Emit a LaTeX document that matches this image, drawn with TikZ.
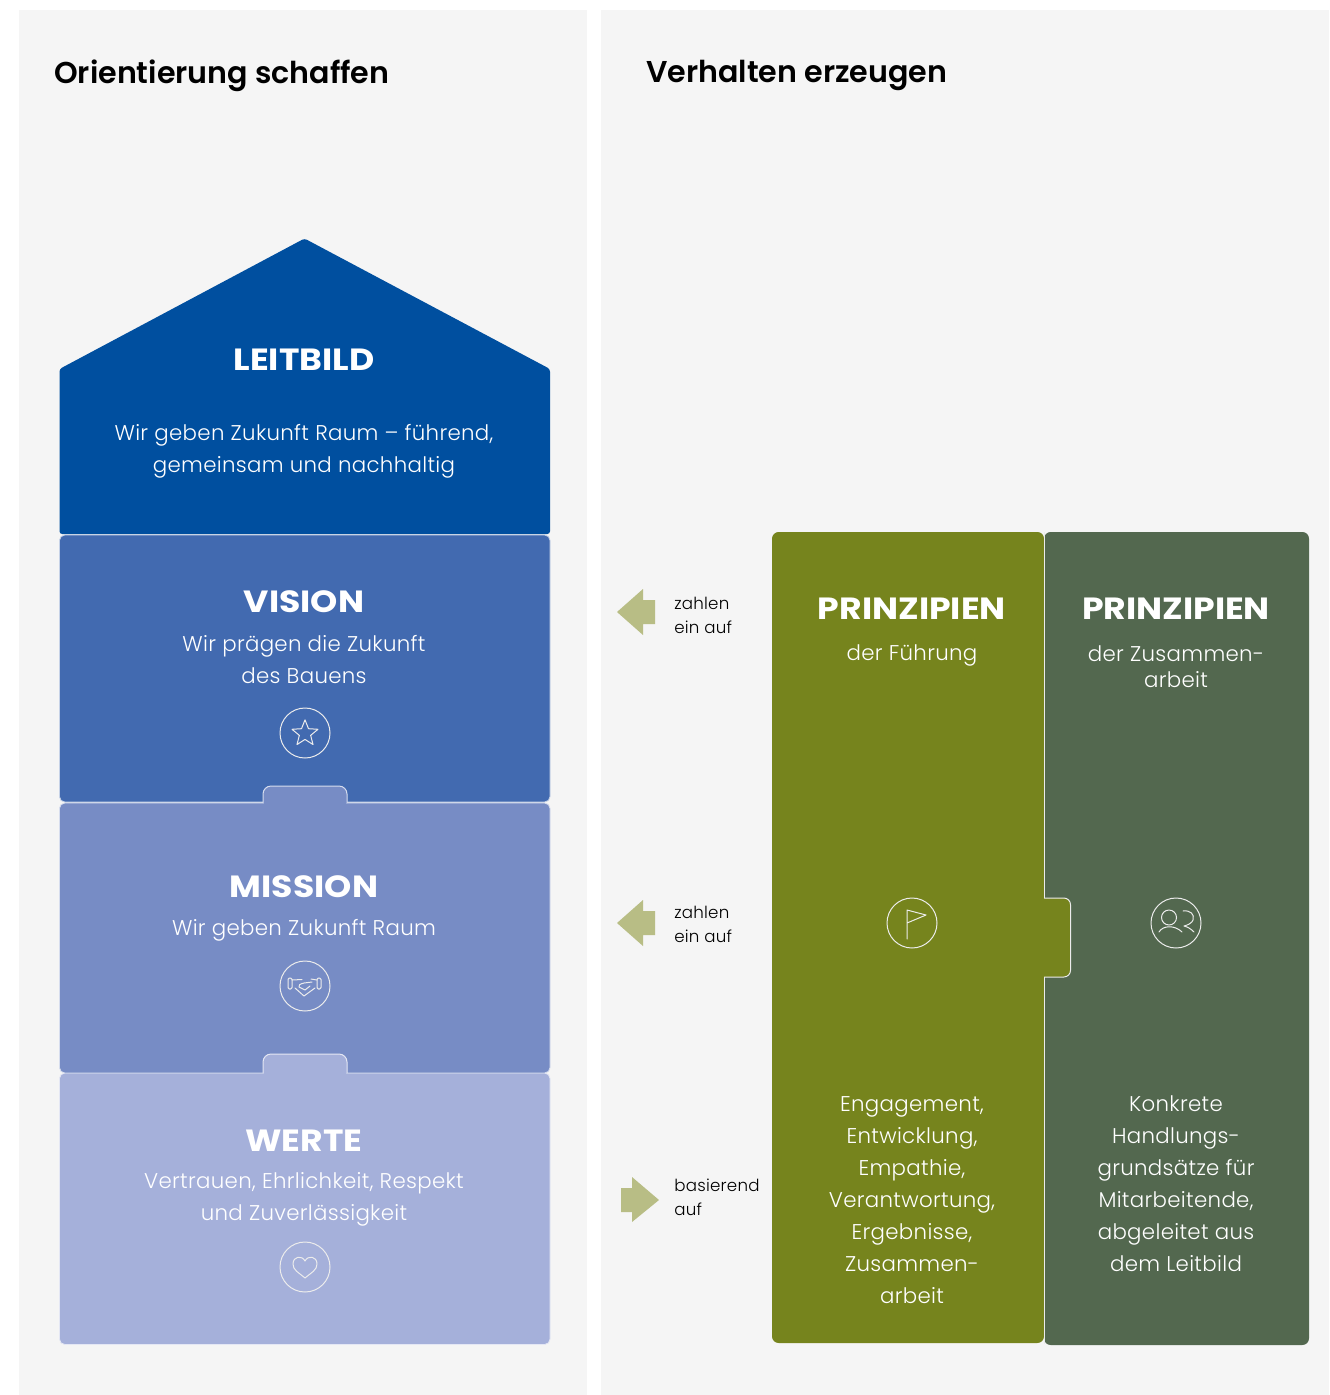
\documentclass[tikz,border=0pt]{standalone}
\usepackage{fontspec}
\usetikzlibrary{shapes.geometric}
\setmainfont{Poppins}
\newfontfamily\lightf[LetterSpace=1.5]{Poppins Light}
\newfontfamily\titlef{Poppins SemiBold}
\newfontfamily\headf{Poppins Bold}[FakeStretch=1.13]
\definecolor{panel}{HTML}{F5F5F5}
\definecolor{cleit}{HTML}{004F9F}
\definecolor{cvis}{HTML}{426AB0}
\definecolor{cmis}{HTML}{778CC5}
\definecolor{cwer}{HTML}{A5B0DA}
\definecolor{colive}{HTML}{76841D}
\definecolor{cgreen}{HTML}{53684F}
\definecolor{carrow}{HTML}{B8BD85}
\tikzset{
  x=0.75pt,y=-0.75pt,
  blockshape/.style={draw=white!70!#1,fill=#1,line width=0.6pt,rounded corners=4pt,line join=round},
  tabshape/.style={draw=white!70!#1,fill=#1,line width=0.75pt,rounded corners=6pt,line join=round},
  title/.style={anchor=west,inner sep=0,text=black,font={\titlef\fontsize{22.6}{28}\selectfont}},
  head/.style={inner sep=0,text=white,font={\headf\fontsize{23}{28}\selectfont}},
  body/.style={inner sep=0,text=white,align=center,font={\lightf\fontsize{16}{24}\selectfont}},
  small/.style={anchor=west,inner sep=0,text=black,align=left,font={\lightf\fontsize{12.5}{18}\selectfont}},
  iconring/.style={circle,draw=white!85!gray,line width=0.75pt,minimum size=37.5pt,inner sep=0},
  iconline/.style={draw=white!85!gray,line width=0.75pt,line join=round,line cap=round},
  arrowshape/.style={fill=carrow,draw=none},
}
\begin{document}
\begin{tikzpicture}
\useasboundingbox (0,0) rectangle (1329,1395);
\fill[white] (0,0) rectangle (1329,1395);
\fill[panel] (19,10) rectangle (587,1395);
\fill[panel] (601,10) rectangle (1329,1395);
\node[title] (t1) at (54,75.5) {Orientierung schaffen};
\node[title] (t2) at (646,75.5) {Verhalten erzeugen};

% left stack
\path[blockshape=cwer] (59.5,1073) rectangle (550,1344.5);
\path[blockshape=cmis] (59.5,803) rectangle (550,1073);
\path[blockshape=cvis] (59.5,535) rectangle (550,802);
\path[tabshape=cmis] (263,803) -- (263,786) -- (347,786) -- (347,803);
\fill[cmis] (263.6,800) rectangle (346.4,806);
\path[tabshape=cwer] (263,1073) -- (263,1054) -- (347,1054) -- (347,1073);
\fill[cwer] (263.6,1070) rectangle (346.4,1076);
\path[fill=cleit,draw=none,rounded corners=2pt,line join=round] (59.5,534) -- (59.5,369) -- (304.5,238.5) -- (550,369) -- (550,534) -- cycle;

\node[head] (n1) at (304,360) {LEITBILD};
\node[body] (b1) at (304,451) {Wir geben Zukunft Raum – führend,\\gemeinsam und nachhaltig};
\node[head] (n2) at (304,602) {VISION};
\node[body] (b2) at (304,660) {Wir prägen die Zukunft\\des Bauens};
\node[head] (n3) at (304,887) {MISSION};
\node[body] (b3) at (304,930) {Wir geben Zukunft Raum};
\node[head] (n4) at (304,1141) {WERTE};
\node[body] (b4) at (304,1199.5) {Vertrauen, Ehrlichkeit, Respekt\\und Zuverlässigkeit};

% left icons
\node[iconring] (i1) at (305,733) {};
\node[star,star points=5,star point ratio=2.3,iconline,minimum size=20.5pt,inner sep=0] (s1) at (305,733.5) {};
\node[iconring] (i2) at (305,986) {};
\draw[iconline,rounded corners=1pt] (288,978) rectangle (292,989);
\draw[iconline,rounded corners=1pt] (317,978) rectangle (321,989);
\draw[iconline] (292,980) -- (302,979.5);
\draw[iconline] (311,979) -- (317,980);
\draw[iconline] (295,988) -- (304,996) -- (315,988);
\draw[iconline] (312,982) -- (304,983) .. controls (300,984) and (298,985) .. (299,987) -- (305,990) -- (310,986);
\node[iconring] (i3) at (305,1267) {};
\draw[iconline] (305,1278) .. controls (298,1272) and (293,1270) .. (293,1264) .. controls (293,1256) and (302,1255) .. (305,1261) .. controls (308,1255) and (317,1256) .. (317,1264) .. controls (317,1270) and (312,1272) .. (305,1278) -- cycle;

% arrows
\fill[arrowshape] (617,612) -- (643,589) -- (643,600) -- (655,600) -- (655,624) -- (643,624) -- (643,635) -- cycle;
\fill[arrowshape] (617,923) -- (643,900) -- (643,911) -- (655,911) -- (655,935) -- (643,935) -- (643,946) -- cycle;
\fill[arrowshape] (659,1200) -- (632,1177) -- (632,1188) -- (621,1188) -- (621,1212) -- (632,1212) -- (632,1222) -- cycle;
\node[small] (a1) at (674,615) {zahlen\\ein auf};
\node[small] (a2) at (674,924) {zahlen\\ein auf};
\node[small] (a3) at (674,1197) {basierend\\auf};

% right blocks
\path[fill=cgreen,draw=none,rounded corners=5pt] (1044,532) rectangle (1309,1345);
\path[fill=colive,draw=none,rounded corners=5pt] (772,532) rectangle (1044,1343);
\path[draw=white!85!gray,fill=colive,line width=0.75pt,rounded corners=5pt,line join=round] (1044,898) -- (1070.5,898) -- (1070.5,977) -- (1044,977);
\fill[colive] (1040,899) rectangle (1044.2,976);
\path[draw=white!85!gray,line width=0.75pt] (1044,532) -- (1044,898);
\path[draw=white!85!gray,line width=0.75pt] (1044,977) -- (1044,1344);
\node[head] (n5) at (912,608.5) {PRINZIPIEN};
\node[body] (b5) at (912,655) {der Führung};
\node[head] (n6) at (1176,608.5) {PRINZIPIEN};
\node[body] (b6) at (1176,666.5) {der Zusammen-\\[-4.5pt]arbeit};
\node[body] (b7) at (912,1200) {Engagement,\\Entwicklung,\\Empathie,\\Verantwortung,\\Ergebnisse,\\Zusammen-\\arbeit};
\node[body] (b8) at (1176,1184) {Konkrete\\Handlungs-\\grundsätze für\\Mitarbeitende,\\abgeleitet aus\\dem Leitbild};

\node[iconring] (i4) at (912,923) {};
\draw[iconline] (907,939) -- (907,910) -- (926,915) -- (907,923);
\node[iconring] (i5) at (1176,923) {};
\draw[iconline] (1169,917.5) circle[radius=7.5];
\draw[iconline] (1159,932) .. controls (1163,925) and (1175,925) .. (1182,932);
\draw[iconline] (1183,911) .. controls (1190,910) and (1195,914) .. (1193,920) .. controls (1192,923) and (1188,925) .. (1184,926) .. controls (1188,927) and (1191,929) .. (1194,932);
\end{tikzpicture}
\end{document}
